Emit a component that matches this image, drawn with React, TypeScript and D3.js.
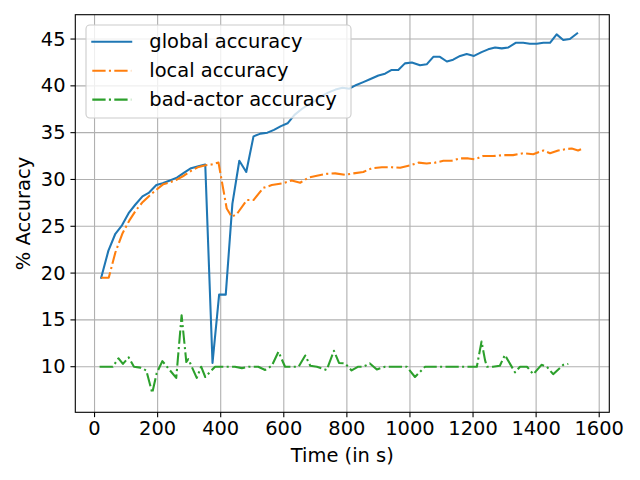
import React from "react";
import * as d3 from "d3";

// ---- data ----
const globalTimes = [21, 44, 66, 87, 108, 129, 152, 173, 196, 216, 239, 261, 283, 306, 329, 351, 374, 395, 416, 437, 459, 481, 504, 526, 548, 569, 591, 612, 634, 656, 677, 699, 720, 742, 764, 786, 808, 830, 852, 873, 900, 921, 942, 963, 984, 1006, 1032, 1053, 1074, 1095, 1117, 1137, 1159, 1180, 1203, 1227, 1248, 1270, 1291, 1312, 1335, 1359, 1380, 1402, 1423, 1444, 1465, 1486, 1507, 1530];
const globalAcc = [19.5, 22.4, 24.2, 25.1, 26.4, 27.3, 28.2, 28.6, 29.4, 29.6, 29.9, 30.2, 30.7, 31.2, 31.4, 31.6, 10.4, 17.7, 17.7, 27.4, 32.0, 30.8, 34.6, 34.9, 35.0, 35.3, 35.7, 36.0, 36.9, 37.5, 38.0, 38.4, 38.9, 39.3, 39.6, 39.8, 39.7, 40.1, 40.4, 40.7, 41.1, 41.3, 41.7, 41.7, 42.4, 42.5, 42.2, 42.3, 43.1, 43.1, 42.6, 42.8, 43.2, 43.4, 43.2, 43.6, 43.9, 44.1, 44.0, 44.1, 44.6, 44.6, 44.5, 44.5, 44.6, 44.6, 45.5, 44.9, 45.0, 45.6];

const localTimes = [21, 45, 66, 88, 110, 131, 153, 175, 196, 218, 240, 262, 283, 305, 327, 349, 371, 393, 419, 435, 451, 483, 504, 535, 562, 599, 625, 652, 678, 705, 736, 763, 794, 821, 852, 879, 911, 942, 969, 1000, 1027, 1053, 1080, 1106, 1132, 1159, 1185, 1206, 1232, 1264, 1296, 1327, 1359, 1391, 1423, 1444, 1470, 1497, 1513, 1533, 1544];
const localAcc = [19.5, 19.5, 22.2, 24.2, 25.6, 26.7, 27.6, 28.3, 28.9, 29.5, 29.7, 30.0, 30.4, 30.9, 31.3, 31.5, 31.6, 31.8, 26.9, 26.0, 26.3, 27.8, 27.8, 29.1, 29.4, 29.6, 29.9, 29.65, 30.2, 30.4, 30.6, 30.65, 30.5, 30.65, 30.8, 31.2, 31.3, 31.3, 31.25, 31.5, 31.8, 31.7, 31.8, 32.0, 32.0, 32.25, 32.25, 32.15, 32.5, 32.5, 32.6, 32.6, 32.8, 32.7, 33.1, 32.8, 33.1, 33.25, 33.3, 33.1, 33.25];

const badTimes = [16, 37, 58, 76, 90, 108, 125, 145, 164, 183, 197, 215, 237, 259, 276, 291, 297, 303, 324, 338, 351, 382, 404, 425, 445, 467, 488, 519, 541, 562, 583, 604, 626, 647, 668, 684, 705, 736, 759, 775, 794, 815, 836, 852, 873, 895, 921, 950, 970, 990, 1016, 1048, 1080, 1110, 1140, 1170, 1212, 1227, 1238, 1244, 1263, 1285, 1301, 1333, 1349, 1371, 1391, 1417, 1434, 1454, 1486, 1502];
const badAcc = [10, 10, 10, 10.9, 10.3, 11.0, 10, 9.9, 9.6, 7.2, 9.3, 10.6, 9.7, 8.8, 15.5, 10.5, 10.8, 10.4, 8.8, 10.0, 8.9, 10, 10, 10, 10, 9.85, 10, 10, 9.65, 10.1, 11.6, 10, 10, 10, 11.2, 10.1, 10, 9.65, 11.7, 10.4, 10.35, 9.6, 10, 10, 10.35, 9.7, 10, 10, 10, 10, 8.9, 10, 10, 10, 10, 10, 10, 12.7, 10.7, 10, 10, 10.1, 11.25, 9.4, 10, 10, 9.2, 10.2, 10, 9.2, 10.2, 10.3];

const xTicks = [0, 200, 400, 600, 800, 1000, 1200, 1400, 1600];
const yTicks = [10, 15, 20, 25, 30, 35, 40, 45];
const seriesNames = ["global accuracy", "local accuracy", "bad-actor accuracy"];

const W = 640;
const H = 480;
const FONT = "DejaVu Sans";
const FS = 19.44;
const L = 75.3, R = 609.3, T = 14.7, B = 412.3;

export default function App() {
  const x = d3.scaleLinear().domain([-61, 1632]).range([L, R]);
  const y = d3.scaleLinear().domain([5.13, 47.6]).range([B, T]);
  const line = d3
    .line<[number, number]>()
    .x((d) => x(d[0]))
    .y((d) => y(d[1]));

  const series = [
    { times: globalTimes, vals: globalAcc, color: "#1f77b4", dash: undefined as string | undefined, cap: "square" },
    { times: localTimes, vals: localAcc, color: "#ff7f0e", dash: "13.3 3.3 2.1 3.3", cap: "butt" },
    { times: badTimes, vals: badAcc, color: "#2ca02c", dash: "13.3 3.3 2.1 3.3", cap: "butt" },
  ];

  const legX = 86, legY = 25, legW = 265, legH = 93;
  const rowBase = [48.3, 77.3, 106.2];

  return (
    <svg
      width={W}
      height={H}
      style={{ position: "fixed", left: 0, top: 0, background: "#fff" }}
      fontFamily={FONT}
    >
      <rect x={0} y={0} width={W} height={H} fill="#fff" />
      <defs>
        <clipPath id="plotclip">
          <rect x={L} y={T} width={R - L} height={B - T} />
        </clipPath>
      </defs>
      {/* grid */}
      {xTicks.map((t) => (
        <line key={"gx" + t} x1={x(t)} x2={x(t)} y1={T} y2={B} stroke="#b0b0b0" strokeWidth={1.1} />
      ))}
      {yTicks.map((t) => (
        <line key={"gy" + t} x1={L} x2={R} y1={y(t)} y2={y(t)} stroke="#b0b0b0" strokeWidth={1.1} />
      ))}
      {/* lines */}
      <g clipPath="url(#plotclip)">
        {series.map((s, i) => (
          <path
            key={i}
            d={line(s.times.map((t, j) => [t, s.vals[j]] as [number, number])) || ""}
            fill="none"
            stroke={s.color}
            strokeWidth={2.08}
            strokeDasharray={s.dash}
            strokeLinecap={s.cap as any}
            strokeLinejoin="round"
          />
        ))}
      </g>
      {/* spines */}
      <rect x={L} y={T} width={R - L} height={B - T} fill="none" stroke="#000" strokeWidth={1.1} />
      {/* ticks */}
      {xTicks.map((t) => (
        <g key={"tx" + t}>
          <line x1={x(t)} x2={x(t)} y1={B} y2={B + 4.86} stroke="#000" strokeWidth={1.1} />
          <text x={x(t)} y={435} fontSize={FS} textAnchor="middle" fill="#000">
            {t}
          </text>
        </g>
      ))}
      {yTicks.map((t) => (
        <g key={"ty" + t}>
          <line x1={L - 4.86} x2={L} y1={y(t)} y2={y(t)} stroke="#000" strokeWidth={1.1} />
          <text x={65.5} y={y(t) + 6.6} fontSize={FS} textAnchor="end" fill="#000">
            {t}
          </text>
        </g>
      ))}
      {/* axis labels */}
      <text x={(L + R) / 2} y={462} fontSize={FS} textAnchor="middle" fill="#000">
        Time (in s)
      </text>
      <text
        transform={`translate(29.5, ${(T + B) / 2}) rotate(-90)`}
        fontSize={FS}
        textAnchor="middle"
        fill="#000"
      >
        % Accuracy
      </text>
      {/* legend */}
      <rect
        x={legX}
        y={legY}
        width={legW}
        height={legH}
        rx={3.9}
        ry={3.9}
        fill="#fff"
        fillOpacity={0.8}
        stroke="#cccccc"
        strokeWidth={1.1}
      />
      {series.map((s, i) => (
        <g key={"leg" + i}>
          <line
            x1={92.3}
            x2={131.2}
            y1={rowBase[i] - 6.6}
            y2={rowBase[i] - 6.6}
            stroke={s.color}
            strokeWidth={2.08}
            strokeDasharray={s.dash}
            strokeLinecap={s.cap as any}
          />
          <text x={149.3} y={rowBase[i]} fontSize={FS} fill="#000">
            {seriesNames[i]}
          </text>
        </g>
      ))}
    </svg>
  );
}
